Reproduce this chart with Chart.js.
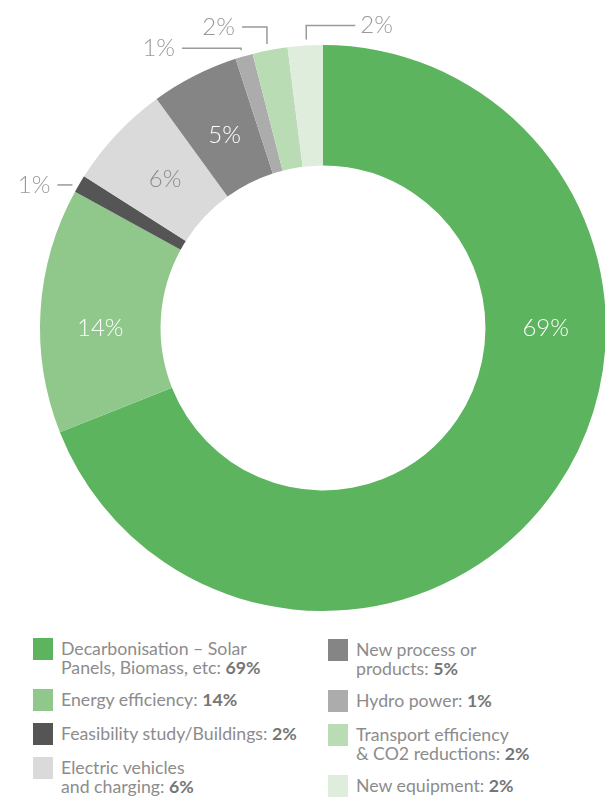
<!DOCTYPE html>
<html>
<head>
<meta charset="utf-8">
<script src="https://cdn.jsdelivr.net/npm/chart.js@4.4.1/dist/chart.umd.min.js"></script>
<style>
  html, body { margin: 0; padding: 0; background: #fff; width: 605px; height: 798px; overflow: hidden; }
  body { font-family: Lato, "Open Sans", sans-serif; }
  #wrap { position: relative; width: 605px; height: 798px; }
  #donut { position: absolute; left: 0; top: 0; }
  .legend { position: absolute; }
  .item { display: flex; align-items: flex-start; margin-bottom: 12px; }
  .sw { width: 20px; height: 22px; flex: none; margin-right: 8px; }
  .txt { font-size: 17.7px; line-height: 19px; color: #8c8c8c; white-space: pre-line; padding-top: 1px; }
  .txt b { color: #767676; font-weight: 700; }
</style>
</head>
<body>
<div id="wrap">
  <canvas id="donut" width="606" height="620"></canvas>
  <div class="legend" id="legCol1" style="left:33px; top:638px;"></div>
  <div class="legend" id="legCol2" style="left:328px; top:639px;"></div>
</div>
<script>
// Investment categories, in slice order (clockwise from 12 o'clock)
const categories = [
  "Decarbonisation – Solar\nPanels, Biomass, etc",
  "Energy efficiency",
  "Feasibility study/Buildings",
  "Electric vehicles\nand charging",
  "New process or\nproducts",
  "Hydro power",
  "Transport efficiency\n& CO2 reductions",
  "New equipment"
];
// Share of each category (%) as drawn on the ring
const shares = [69, 14, 1, 6, 5, 1, 2, 2];
// Percentages as printed in the legend
const legendShares = [69, 14, 2, 6, 5, 1, 2, 2];
const sliceColors = ["#5cb45f", "#8fc88a", "#555555", "#dadada", "#858585", "#acacac", "#badcb5", "#dfeddc"];

// Labels written inside the ring
// angle: degrees in Chart.js convention (null = slice middle); radial: 0 = inner edge, 1 = outer edge
const insideLabels = {
  0: { angle: 0,    radial: 0.5,  color: "#ffffff" },
  1: { angle: 180,  radial: 0.5,  color: "#ffffff" },
  3: { angle: null, radial: 0.45, color: "#8c8c8c" },
  4: { angle: null, radial: 0.45, color: "#ffffff" }
};
// Labels for thin slices, placed outside with a leader line
const callouts = {
  2: { offset: [-7, 1],  legs: [[-15, 0]] },
  5: { offset: [-3, -6], legs: [[0, -2], [-59, 0]] },
  6: { offset: [-3, -6], legs: [[0, -17], [-25, 0]] },
  7: { offset: [1, -6],  legs: [[0, -14], [49, 0]] }
};

const sliceLabelPlugin = {
  id: "sliceLabels",
  afterDatasetsDraw(chart) {
    const ctx = chart.ctx;
    const meta = chart.getDatasetMeta(0);
    ctx.save();
    ctx.font = "300 24px Lato, 'Open Sans', sans-serif";
    ctx.textBaseline = "middle";
    meta.data.forEach((arc, i) => {
      const p = arc.getProps(["x", "y", "startAngle", "endAngle", "innerRadius", "outerRadius"], true);
      const text = shares[i] + "%";
      const mid = (p.startAngle + p.endAngle) / 2;
      if (insideLabels[i]) {
        const cfg = insideLabels[i];
        const a = cfg.angle === null ? mid : cfg.angle * Math.PI / 180;
        const r = p.innerRadius + cfg.radial * (p.outerRadius - p.innerRadius);
        ctx.fillStyle = cfg.color;
        ctx.textAlign = "center";
        ctx.fillText(text, p.x + r * Math.cos(a), p.y + r * Math.sin(a));
      } else if (callouts[i]) {
        const cfg = callouts[i];
        let cx = p.x + p.outerRadius * Math.cos(mid) + cfg.offset[0];
        let cy = p.y + p.outerRadius * Math.sin(mid) + cfg.offset[1];
        ctx.strokeStyle = "#9a9a9a";
        ctx.lineWidth = 1.5;
        ctx.beginPath();
        ctx.moveTo(cx, cy);
        let lastDx = 0;
        cfg.legs.forEach(([dx, dy]) => {
          cx += dx; cy += dy;
          ctx.lineTo(cx, cy);
          if (dx !== 0) lastDx = dx;
        });
        ctx.stroke();
        ctx.fillStyle = "#999999";
        if (lastDx < 0) {
          ctx.textAlign = "right";
          ctx.fillText(text, cx - 7, cy);
        } else {
          ctx.textAlign = "left";
          ctx.fillText(text, cx + 5, cy);
        }
      }
    });
    ctx.restore();
  }
};

new Chart(document.getElementById("donut"), {
  type: "doughnut",
  data: {
    labels: categories,
    datasets: [{
      data: shares,
      backgroundColor: sliceColors,
      borderWidth: 0,
      hoverOffset: 0,
      offset: 0
    }]
  },
  options: {
    responsive: false,
    animation: false,
    cutout: "57.4%",
    layout: { padding: { left: 40, top: 45, right: 0, bottom: 9 } },
    plugins: {
      legend: { display: false },
      tooltip: { enabled: false }
    }
  },
  plugins: [sliceLabelPlugin]
});

// Two-column legend built from the same arrays
function buildLegend(el, from, to) {
  for (let i = from; i < to; i++) {
    const item = document.createElement("div");
    item.className = "item";
    const sw = document.createElement("div");
    sw.className = "sw";
    sw.style.background = sliceColors[i];
    const txt = document.createElement("div");
    txt.className = "txt";
    txt.appendChild(document.createTextNode(categories[i] + ": "));
    const b = document.createElement("b");
    b.textContent = legendShares[i] + "%";
    txt.appendChild(b);
    item.appendChild(sw);
    item.appendChild(txt);
    el.appendChild(item);
  }
}
buildLegend(document.getElementById("legCol1"), 0, 4);
buildLegend(document.getElementById("legCol2"), 4, 8);
</script>
</body>
</html>
